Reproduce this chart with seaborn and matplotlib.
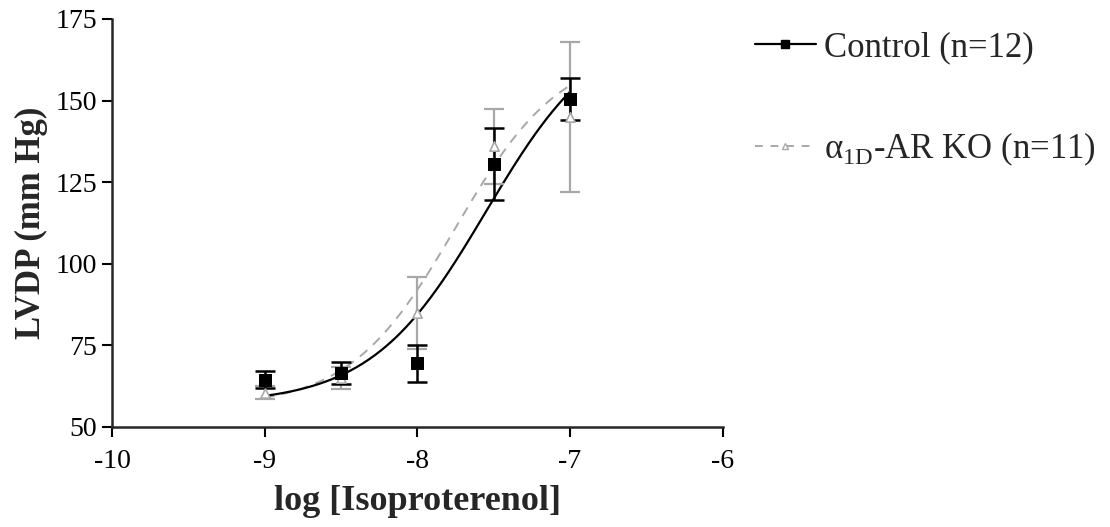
import numpy as np
import pandas as pd
import matplotlib
matplotlib.use("Agg")
import matplotlib.pyplot as plt
import seaborn as sns
from matplotlib.lines import Line2D

# log [Isoproterenol] doses
log_iso = [-9.0, -8.5, -8.0, -7.5, -7.0]

# Control (n=12)
ctrl_mean = [64.5, 66.5, 69.5, 130.5, 150.5]
ctrl_sem = [2.5, 3.5, 5.7, 11.0, 6.5]

# alpha1D-AR KO (n=11)
ko_mean = [60.5, 65.0, 85.0, 136.0, 145.0]
ko_sem = [2.0, 3.5, 11.0, 11.5, 23.0]

# sigmoid fit parameters (bottom, top, logEC50, hill)
ctrl_fit = [57.0, 175.0, -7.55, 1.15]
ko_fit = [56.0, 166.0, -7.75, 1.25]

x_ticks = [-10, -9, -8, -7, -6]
y_ticks = [50, 75, 100, 125, 150, 175]


def sigmoid(x, p):
    bottom, top, ec50, hill = p
    return bottom + (top - bottom) / (1 + 10 ** ((ec50 - x) * hill))


sns.set_style("ticks")
plt.rcParams['font.family'] = ['Liberation Serif', 'DejaVu Serif']
plt.rcParams['mathtext.fontset'] = 'custom'
plt.rcParams['mathtext.rm'] = 'Liberation Serif'

fig = plt.figure(figsize=(11.1, 5.27), dpi=100)
ax = fig.add_axes([0.101, 0.19, 0.55, 0.774])

xs = np.linspace(min(log_iso), max(log_iso), 200)
curves = pd.DataFrame({"x": xs, "ctrl": sigmoid(xs, ctrl_fit), "ko": sigmoid(xs, ko_fit)})

sns.lineplot(data=curves, x="x", y="ko", ax=ax, color="#a8a8a8", lw=1.4,
             linestyle=(0, (5, 4)))
sns.lineplot(data=curves, x="x", y="ctrl", ax=ax, color="black", lw=1.6)

ax.errorbar(log_iso, ko_mean, yerr=ko_sem, fmt="none", ecolor="#a8a8a8",
            elinewidth=1.6, capsize=7, capthick=1.6)
ax.errorbar(log_iso, ctrl_mean, yerr=ctrl_sem, fmt="none", ecolor="black",
            elinewidth=1.8, capsize=7, capthick=1.8)

pts = pd.DataFrame({"x": log_iso, "ctrl": ctrl_mean, "ko": ko_mean})
sns.scatterplot(data=pts, x="x", y="ko", ax=ax, marker="^", s=45,
                facecolor="white", edgecolor="#a8a8a8", linewidth=1.2, zorder=4)
sns.scatterplot(data=pts, x="x", y="ctrl", ax=ax, marker="s", s=80,
                color="black", edgecolor="black", zorder=5)

ax.set_xlim(-10, -6)
ax.set_ylim(50, 175)
ax.set_xticks(x_ticks)
ax.set_yticks(y_ticks)
ax.set_xticklabels([str(t) for t in x_ticks])
ax.set_yticklabels([str(t) for t in y_ticks])
ax.tick_params(axis="both", labelsize=20, direction="out", length=7, width=1.5,
               colors="black")
ax.tick_params(axis="x", pad=9)
ax.tick_params(axis="y", pad=4)
for s in ["left", "bottom"]:
    ax.spines[s].set_linewidth(1.8)
sns.despine(ax=ax)

ax.set_xlabel("log [Isoproterenol]", fontsize=26, fontweight="bold", labelpad=8)
ax.set_ylabel("LVDP (mm Hg)", fontsize=25, fontweight="bold", labelpad=5)

handles = [
    Line2D([], [], color="black", lw=1.6, marker="s", markersize=6),
    Line2D([], [], color="#a8a8a8", lw=1.4, linestyle=(0, (4, 4)), marker="^",
           markersize=5, markerfacecolor="white"),
]
labels = ["Control (n=12)", r"α$_{\mathrm{1D}}$-AR KO (n=11)"]
fig.legend(handles, labels, loc="upper left", bbox_to_anchor=(0.652, 1.0),
           frameon=False, fontsize=25, labelspacing=1.9, handlelength=1.75,
           handletextpad=0.25)

fig.savefig("out.png", dpi=100)
